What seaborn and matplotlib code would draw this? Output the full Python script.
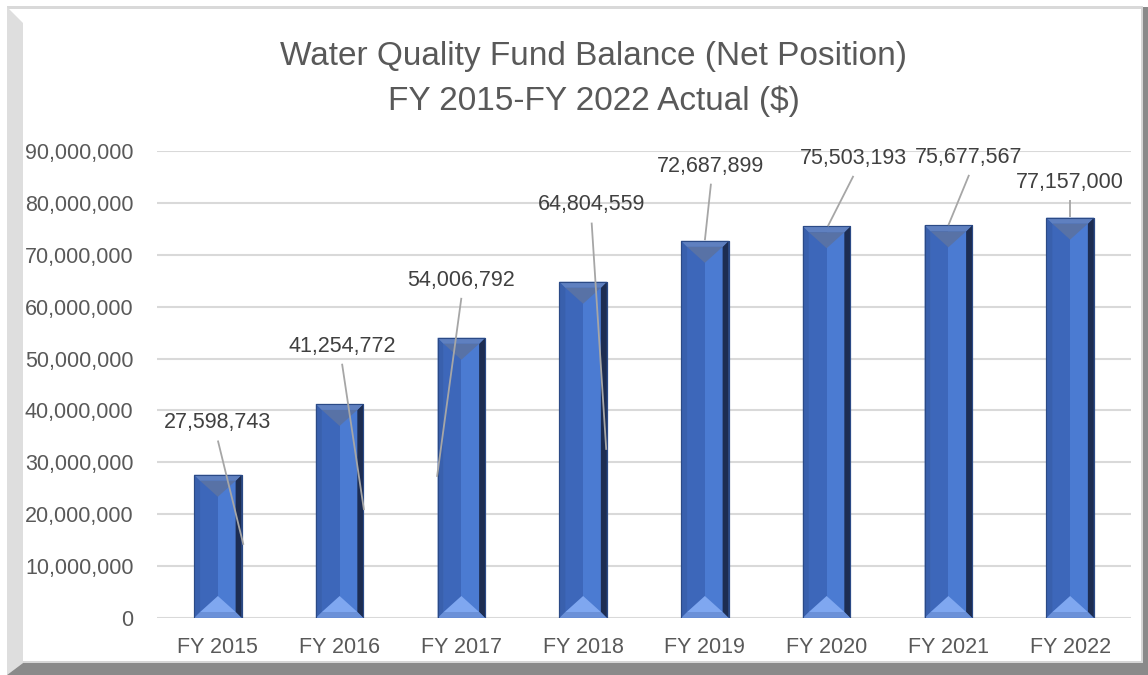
import pandas as pd
import matplotlib
matplotlib.use("Agg")
import matplotlib.pyplot as plt
import seaborn as sns
from matplotlib.patches import Polygon
from matplotlib.ticker import FuncFormatter

# data
years = ["FY 2015", "FY 2016", "FY 2017", "FY 2018", "FY 2019", "FY 2020", "FY 2021", "FY 2022"]
balances = [27598743, 41254772, 54006792, 64804559, 72687899, 75503193, 75677567, 77157000]

# where Excel put each data label, and where its leader line points to
label_x = [0.00, 1.02, 2.00, 3.07, 4.05, 5.22, 6.17, 7.00]
label_y = [37.6e6, 52.4e6, 65.1e6, 79.6e6, 87.1e6, 88.6e6, 88.8e6, 84.0e6]
leader_x = [0.21, 1.20, 1.80, 3.19, 4.00, 5.01, 6.00, 7.00]
leader_y = [14.1e6, 20.8e6, 27.2e6, 32.4e6, 72.8e6, 75.5e6, 75.7e6, 77.3e6]

title_1 = "Water Quality Fund Balance (Net Position)"
title_2 = "FY 2015-FY 2022 Actual ($)"

sns.set_style("white")
plt.rcParams["font.family"] = ["Liberation Sans", "DejaVu Sans"]

W, H = 1148, 675
fig = plt.figure(figsize=(W / 100, H / 100), dpi=100)


def px(x, y):
    return (x / W, 1 - y / H)


# chart frame (bevelled border like the Excel chart area)
frame = [
    ([px(7, 6), px(1143, 6), px(1143, 9), px(7, 9)], "#D9D9D9"),
    ([px(7, 7), px(23, 23), px(23, 663), px(7, 675)], "#DEDEDE"),
    ([px(7, 675), px(23, 663), px(1148, 663), px(1148, 675)], "#8A8A8A"),
    ([px(1143, 7), px(1148, 7), px(1148, 675), px(1143, 675)], "#8A8A8A"),
    ([px(1141, 7), px(1143, 7), px(1143, 663), px(1141, 663)], "#D6D6D6"),
    ([px(23, 661), px(1143, 661), px(1143, 663), px(23, 663)], "#D6D6D6"),
]
for pts, col in frame:
    fig.add_artist(Polygon(pts, closed=True, facecolor=col, edgecolor="none",
                           transform=fig.transFigure))

ax = fig.add_axes([157 / W, (H - 618) / H, (1131 - 157) / W, (618 - 151) / H])

df = pd.DataFrame({"year": years, "balance": balances})
sns.barplot(data=df, x="year", y="balance", color="#4472C4", width=0.39,
            edgecolor="#2B4A86", linewidth=0.8, saturation=1, ax=ax, zorder=2)

ax.set_xlim(-0.5, len(years) - 0.5)
ax.set_ylim(0, 90e6)
ax.set_yticks(range(0, 90000001, 10000000))
ax.yaxis.set_major_formatter(FuncFormatter(lambda v, p: f"{int(v):,}"))
ax.yaxis.grid(True, color="#D9D9D9", linewidth=1.5)
ax.xaxis.grid(False)
ax.set_axisbelow(True)
sns.despine(ax=ax, left=True, bottom=True)
ax.set_xlabel("")
ax.set_ylabel("")
ax.tick_params(axis="y", length=0, pad=17, labelsize=15.5, labelcolor="#595959")
ax.tick_params(axis="x", length=0, pad=14, labelsize=15.5, labelcolor="#595959")

# data units per pixel, to give the bevels a fixed pixel size
ux = (len(years)) / ((1131 - 157))
uy = 90e6 / (618 - 151)

for p in ax.patches:
    x0 = p.get_x()
    w = p.get_width()
    h = p.get_height()
    x1 = x0 + w
    xc = x0 + w / 2
    bx, by = 6 * ux, 6 * uy
    shapes = [
        ([(x0 + bx, by), (xc, by), (xc, h - by), (x0 + bx, h - by)], "#3D67BA"),
        ([(xc, by), (x1 - bx, by), (x1 - bx, h - by), (xc, h - by)], "#4B7BD2"),
        ([(x0, 0), (x0, h), (x0 + bx, h - by), (x0 + bx, by)], "#3960AD"),
        ([(x1, 0), (x1, h), (x1 - bx, h - by), (x1 - bx, by)], "#1D2D52"),
        ([(x0, h), (x1, h), (x1 - bx, h - by), (x0 + bx, h - by)], "#5F80C0"),
        ([(x0 + bx, h - by), (x1 - bx, h - by), (xc, h - by - 16 * uy)], "#5872A6"),
        ([(x0, 0), (x1, 0), (x1 - bx, by), (x0 + bx, by)], "#6A90D8"),
        ([(x0 + bx, by), (x1 - bx, by), (xc, by + 16 * uy)], "#7FA7F0"),
    ]
    for pts, col in shapes:
        ax.add_patch(Polygon(pts, closed=True, facecolor=col, edgecolor="none", zorder=3))
    ax.add_patch(Polygon([(x0, 0), (x0, h), (x1, h), (x1, 0)], closed=True,
                         facecolor="none", edgecolor="#2B4A86", linewidth=0.8, zorder=3))

# data labels with leader lines
for i, v in enumerate(balances):
    ax.plot([label_x[i], leader_x[i]], [label_y[i] - 3.4e6, leader_y[i]],
            color="#A6A6A6", linewidth=1.3, zorder=5, solid_capstyle="butt")
    ax.text(label_x[i], label_y[i], f"{v:,}", ha="center", va="center",
            fontsize=15.5, color="#404040", zorder=6)

fig.text(594 / W, 1 - 56 / H, title_1, ha="center", va="center", fontsize=24, color="#595959")
fig.text(594 / W, 1 - 101 / H, title_2, ha="center", va="center", fontsize=24, color="#595959")

fig.savefig("out.png", dpi=100)
